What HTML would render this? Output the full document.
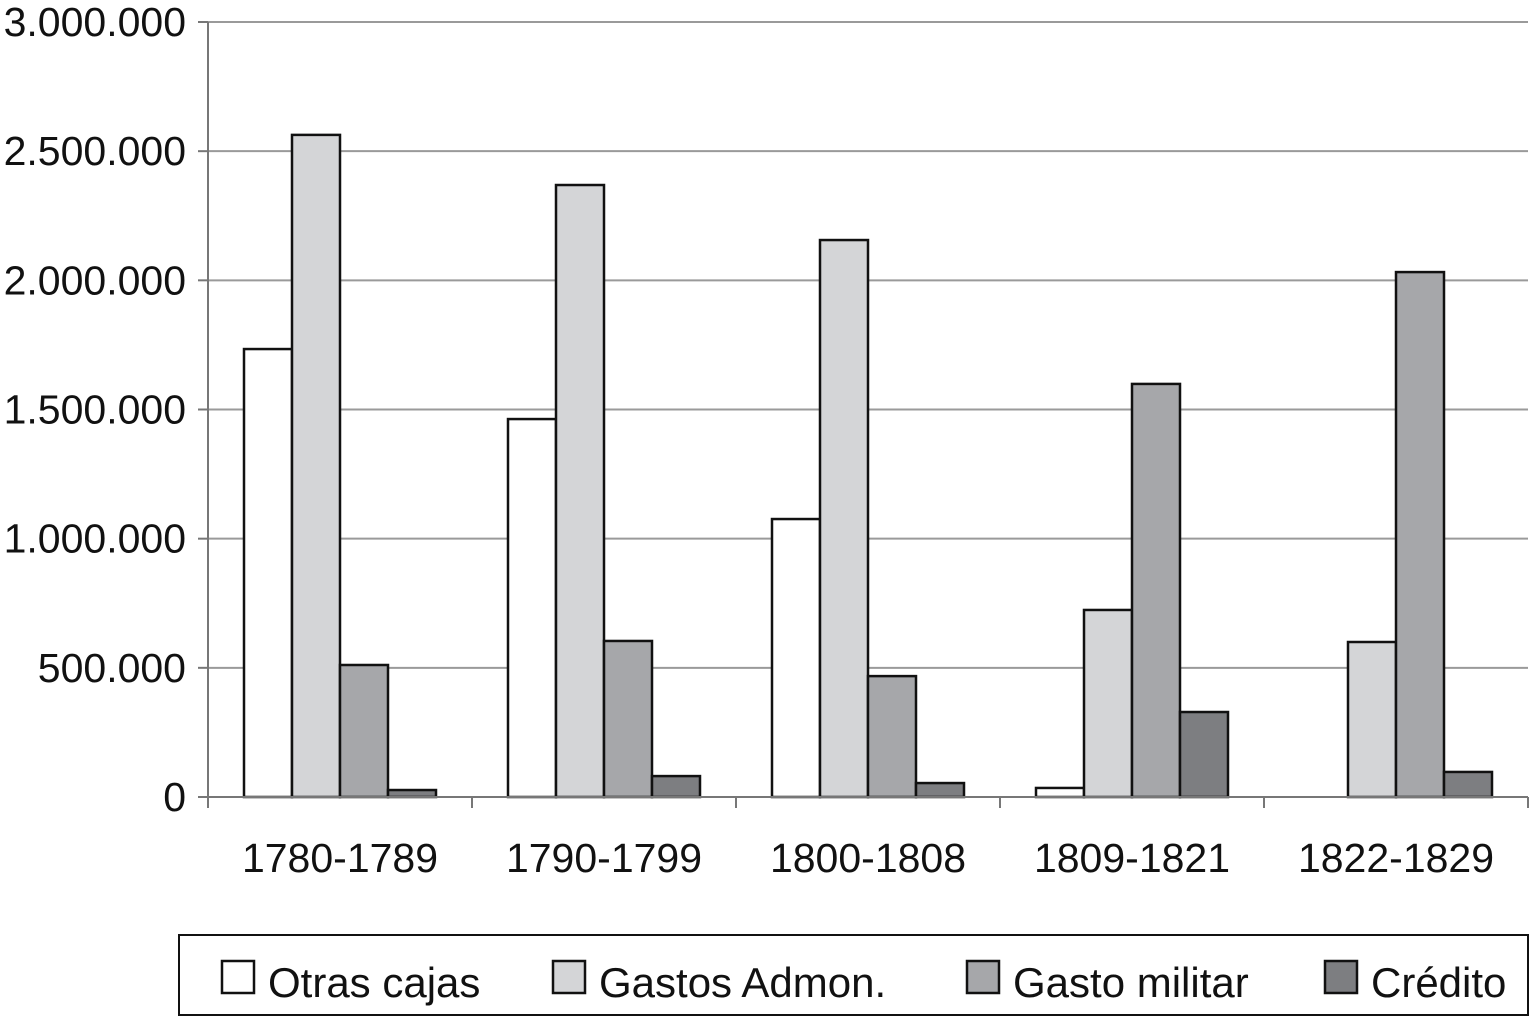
<!DOCTYPE html>
<html><head><meta charset="utf-8"><style>
body{margin:0;background:#fff;}
svg text{font-family:"Liberation Sans",Arial,sans-serif;fill:#111;}
</style></head><body>
<svg id="chart" width="1531" height="1024" viewBox="0 0 1531 1024" xmlns="http://www.w3.org/2000/svg">
<g id="grid"></g><g id="bars"></g><g id="axes"></g><g id="legend"></g>
</svg>
<script>
const categories=["1780-1789","1790-1799","1800-1808","1809-1821","1822-1829"];
const seriesNames=["Otras cajas","Gastos Admon.","Gasto militar","Crédito"];
const otrasCajas=[1734000,1463000,1076000,35000,0];
const gastosAdmon=[2563000,2369000,2156000,724000,600000];
const gastoMilitar=[511000,604000,468000,1599000,2032000];
const credito=[27000,81000,54000,329000,97000];
const yTicks=[0,500000,1000000,1500000,2000000,2500000,3000000];
const yTickLabels=["0","500.000","1.000.000","1.500.000","2.000.000","2.500.000","3.000.000"];
const colors=["#ffffff","#d4d5d7","#a6a7aa","#7d7e81"];
const series=[otrasCajas,gastosAdmon,gastoMilitar,credito];
const NS="http://www.w3.org/2000/svg";
const X0=208,X1=1528,Y0=797,Y1=22,YMAX=3000000;
const catW=(X1-X0)/categories.length, barW=48;
const y=v=>Y0-(v/YMAX)*(Y0-Y1);
function mk(tag,attrs,parent){const e=document.createElementNS(NS,tag);for(const k in attrs)e.setAttribute(k,attrs[k]);parent.appendChild(e);return e;}
const grid=document.getElementById('grid'),bars=document.getElementById('bars'),axes=document.getElementById('axes'),legend=document.getElementById('legend');
yTicks.forEach((t,i)=>{
  if(t>0){const l=mk('line',{x1:X0,x2:X1,y1:y(t),y2:y(t),stroke:'#9a9a9a','stroke-width':2},grid);
  
  }
  const tk=mk('line',{x1:X0-10,x2:X0,y1:y(t),y2:y(t),stroke:'#777','stroke-width':2},axes);
  
  
  const tx=mk('text',{x:186,y:y(t)+14,'text-anchor':'end','font-size':41},axes);
  tx.textContent=yTickLabels[i];
  
  
});
categories.forEach((c,ci)=>{
  const gx=X0+ci*catW+36;
  series.forEach((s,si)=>{
    const v=s[ci]; if(v<=0) return;
    const r=mk('rect',{x:gx+si*barW,y:y(v),width:barW,height:Y0-y(v),fill:colors[si],stroke:'#111','stroke-width':2.5},bars);
    
    
  });
  const t=mk('text',{x:X0+ci*catW+catW/2,y:872,'text-anchor':'middle','font-size':41},axes);
  t.textContent=c;
  
  
});
for(let i=0;i<=categories.length;i++){
  const tk=mk('line',{x1:X0+i*catW,x2:X0+i*catW,y1:Y0,y2:Y0+11,stroke:'#777','stroke-width':2},axes);
  
  
}
const ya=mk('line',{x1:X0,x2:X0,y1:Y1,y2:Y0,stroke:'#777','stroke-width':2},axes);


const xa=mk('line',{x1:X0,x2:X1,y1:Y0,y2:Y0,stroke:'#777','stroke-width':2},axes);


const lb=mk('rect',{x:179,y:935,width:1349,height:80,fill:'#fff',stroke:'#111','stroke-width':2},legend);


const lx=[222,553,967,1325];
seriesNames.forEach((n,i)=>{
  const sw=mk('rect',{x:lx[i],y:961,width:32,height:32,fill:colors[i],stroke:'#111','stroke-width':2.5},legend);
  
  
  const t=mk('text',{x:lx[i]+46,y:997,'font-size':42},legend);
  t.textContent=n;
  
  
});
</script>
</body></html>
